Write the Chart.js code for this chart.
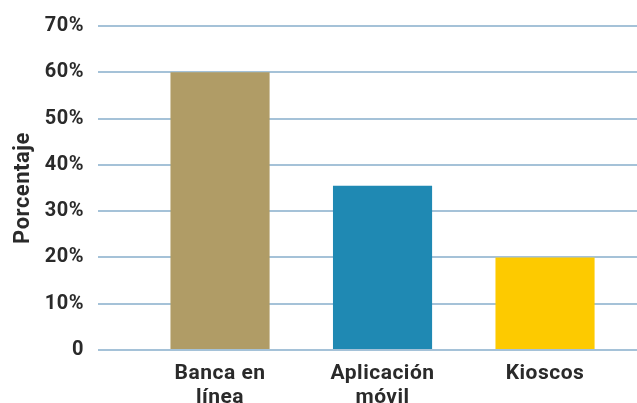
<!DOCTYPE html>
<html>
<head>
<meta charset="utf-8">
<script src="https://cdn.jsdelivr.net/npm/chart.js@4"></script>
<style>
  html, body { margin: 0; padding: 0; background: #fff; }
  #wrap { width: 637px; height: 403px; }
</style>
</head>
<body>
<div id="wrap"><canvas id="grafico"></canvas></div>
<script>
// canales y porcentajes
var canales = [['Banca en', 'línea'], ['Aplicación', 'móvil'], ['Kioscos']];
var porcentajes = [60, 35.5, 20];
var colores = ['#b09c66', '#1f89b3', '#fdca00'];
var marcasY = [0, 10, 20, 30, 40, 50, 60, 70];

var puntos = porcentajes.map(function (v, i) { return { x: i, y: v }; });

// un poco de espacio entre letras para todo el texto
var espaciado = {
  id: 'espaciado',
  beforeInit: function (chart) { chart.ctx.letterSpacing = '0.5px'; },
  beforeDraw: function (chart) { chart.ctx.letterSpacing = '0.5px'; }
};

var ctx = document.getElementById('grafico');

var miGrafico = new Chart(ctx, {
  type: 'bar',
  data: {
    datasets: [{
      label: 'Porcentaje',
      data: puntos,
      backgroundColor: colores,
      borderWidth: 0,
      barPercentage: 0.61,
      categoryPercentage: 1
    }]
  },
  plugins: [espaciado],
  options: {
    responsive: true,
    maintainAspectRatio: false,
    animation: false,
    layout: { padding: { top: 25, right: 0, bottom: 0, left: 0 } },
    plugins: {
      legend: { display: false },
      tooltip: { enabled: false }
    },
    scales: {
      x: {
        type: 'linear',
        offset: false,
        min: -0.751,
        max: 2.566,
        grid: { display: false, drawTicks: false },
        border: { display: false },
        afterFit: function (scale) { scale.height = 53; },
        ticks: {
          stepSize: 1,
          includeBounds: false,
          autoSkip: false,
          maxRotation: 0,
          padding: 11,
          color: '#2a2a2a',
          font: { family: 'Roboto', size: 21, weight: 'bold', lineHeight: 1.18 },
          callback: function (v) { return canales[v] || ''; }
        }
      },
      y: {
        min: 0,
        max: 70,
        afterBuildTicks: function (scale) {
          scale.ticks = marcasY.map(function (v) { return { value: v }; });
        },
        afterFit: function (scale) { scale.width = 98; },
        grid: { color: '#a5c2d8', lineWidth: 2, drawTicks: false },
        border: { display: false },
        title: {
          display: true,
          text: 'Porcentaje',
          color: '#2a2a2a',
          font: { family: 'Roboto', size: 22, weight: 'bold' },
          padding: { top: 10, bottom: 0 }
        },
        ticks: {
          padding: 14,
          color: '#2a2a2a',
          font: { family: 'Roboto', size: 20, weight: 'bold' },
          callback: function (v) { return v === 0 ? '0' : v + '%'; }
        }
      }
    }
  }
});
</script>
</body>
</html>
